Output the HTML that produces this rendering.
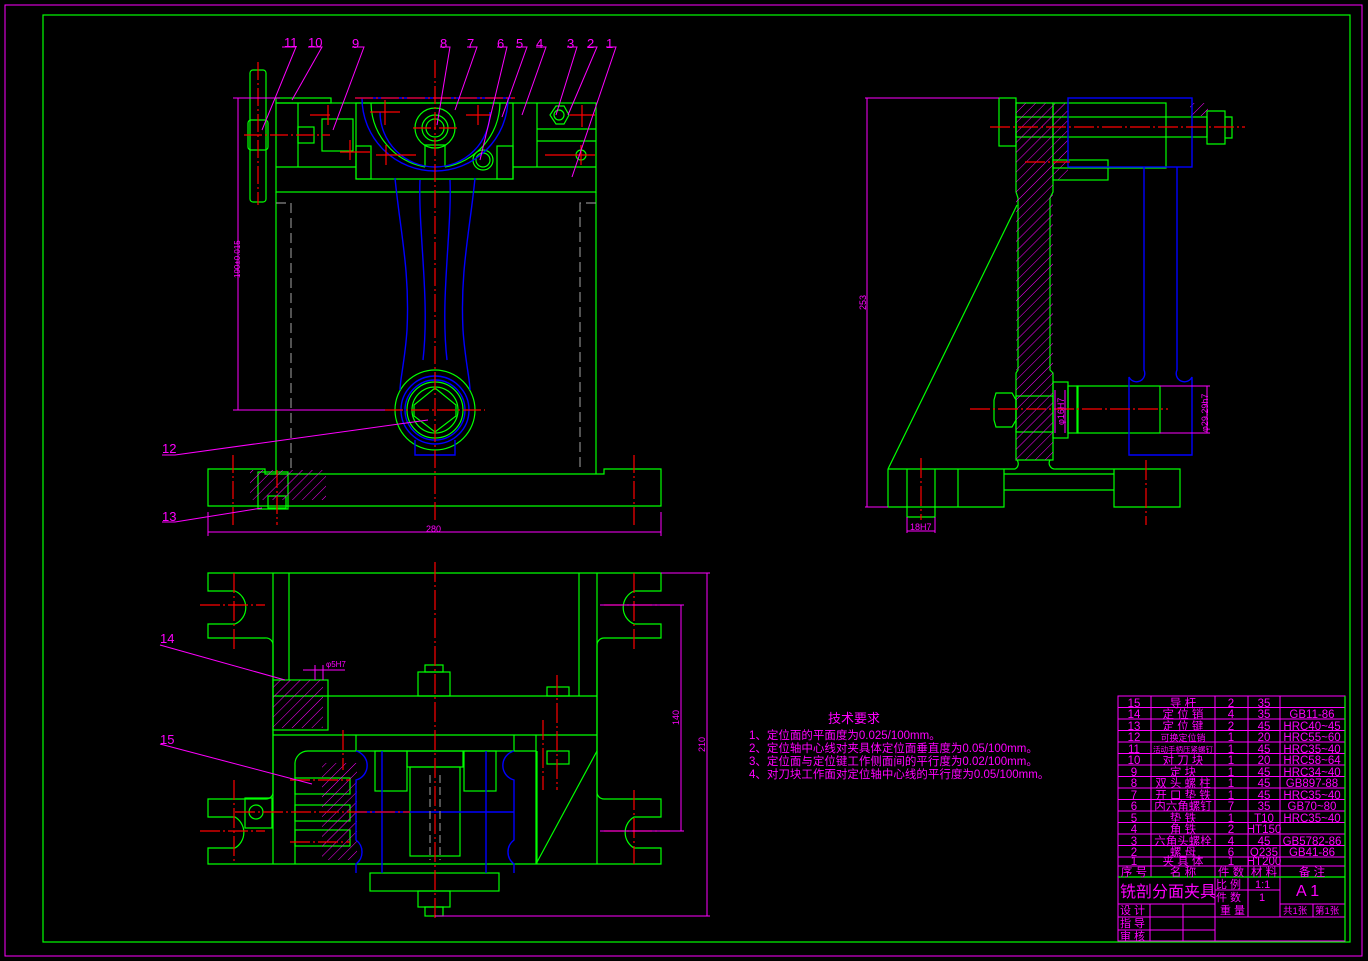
<!DOCTYPE html>
<html><head><meta charset="utf-8"><style>
body{margin:0;background:#000;width:1368px;height:961px;overflow:hidden}
svg{display:block}
text{font-family:"Liberation Sans","Noto Sans CJK SC",sans-serif;fill:#f0f}
</style></head><body>
<svg width="1368" height="961" viewBox="0 0 1368 961" xmlns="http://www.w3.org/2000/svg">
<defs>
<pattern id="h" width="7" height="7" patternUnits="userSpaceOnUse" patternTransform="rotate(45)"><line x1="0" y1="0" x2="0" y2="7" stroke="#f0f" stroke-width="1"/></pattern>
</defs>
<rect x="5" y="5" width="1357" height="951" fill="none" stroke="#f0f" stroke-width="1"/>
<rect x="43" y="15" width="1307" height="927" fill="none" stroke="#0f0" stroke-width="1.2"/>

<!-- ===== FRONT VIEW ===== -->
<g fill="none" stroke="#0f0" stroke-width="1.2">
<rect x="276" y="103" width="320" height="89"/>
<line x1="276" y1="167" x2="356" y2="167"/><line x1="513" y1="167" x2="596" y2="167"/>
<rect x="356" y="103" width="157" height="76"/>
<rect x="356" y="146" width="15" height="33"/><rect x="497" y="146" width="16" height="33"/>
<line x1="298" y1="103" x2="298" y2="167"/><line x1="537" y1="103" x2="537" y2="167"/>
<line x1="537" y1="129" x2="596" y2="129"/><line x1="537" y1="141" x2="596" y2="141"/>
<rect x="276" y="98" width="55" height="5"/>
<rect x="322" y="119" width="31" height="32"/><rect x="298" y="127" width="16" height="16"/>
<line x1="276" y1="192" x2="276" y2="474"/><line x1="596" y1="192" x2="596" y2="474"/>
<path d="M208 469H265V474H604V469H661V506H208Z"/>
<path d="M371 103A66 66 0 0 0 425 167M500 103A66 66 0 0 1 445 167"/>
<path d="M425 167V145H445V167"/>
<circle cx="435" cy="128" r="20"/><circle cx="435" cy="128" r="13"/><circle cx="435" cy="128" r="9"/>
<circle cx="483" cy="160" r="10"/><circle cx="483" cy="160" r="7"/>
<polygon points="550,115 556,106 564,106 569,115 564,124 556,124"/><circle cx="559" cy="115" r="5"/>
<circle cx="581" cy="155" r="5"/>
<circle cx="435" cy="410" r="40"/><circle cx="435" cy="410" r="28"/><circle cx="435" cy="410" r="23"/>
<polygon points="435,388 456,405 456,416 435,432 414,416 414,405"/>
<rect x="250" y="70" width="16" height="132" rx="3"/>
<rect x="248" y="120" width="20" height="30" rx="3"/>
<rect x="258" y="472" width="30" height="37"/><rect x="268" y="496" width="18" height="12"/>
</g>
<rect x="250" y="470" width="76" height="30" fill="url(#h)"/>
<g fill="none" stroke="#888" stroke-dasharray="10,5" stroke-width="1.2">
<path d="M276 203H291V470M596 203H580V470"/>
</g>
<g fill="none" stroke="#00f" stroke-width="1.4">
<path d="M355 98H513"/>
<path d="M362 98A73 73 0 0 0 508 98"/>
<path d="M380 112A55 55 0 0 0 490 112"/>
<path d="M395 178C400 230 410 270 407 330C405 360 400 380 400 390M475 178C470 230 460 270 463 330C465 360 470 380 470 390"/>
<path d="M420 180C418 230 430 300 423 360M450 180C452 230 440 300 447 360"/>
<circle cx="435" cy="410" r="34"/><circle cx="435" cy="410" r="30"/>
<path d="M415 440V455H455V440"/>
</g>
<g stroke="#f00" stroke-width="1.2" stroke-dasharray="18,3,2,3" fill="none">
<line x1="435" y1="60" x2="435" y2="520"/><line x1="385" y1="410" x2="485" y2="410"/>
<line x1="413" y1="128" x2="458" y2="128"/><line x1="258" y1="62" x2="258" y2="205"/>
<line x1="244" y1="135" x2="330" y2="135"/><line x1="233" y1="455" x2="233" y2="525"/><line x1="634" y1="455" x2="634" y2="525"/>
<line x1="277" y1="470" x2="277" y2="525"/><line x1="355" y1="98" x2="515" y2="98"/>
</g>
<g stroke="#f00" stroke-width="1.2">
<path d="M376 155h40M386 145v20M310 115h20M328 105v20M340 152h30M350 140v20M545 155h50M581 145v20M570 115h25M582 105v22M466 115h25M478 105v20M370 112h30M385 100v25"/>
</g>
<g stroke="#f0f" stroke-width="1" fill="none">
<path d="M238 98V410M233 98H280M233 410H385"/>
<path d="M208 512V536M661 512V536M208 532H661"/>
<path d="M282 47H296L262 130M308 47H322L292 100M352 47H364L333 130M440 47H450L437 125M467 47H477L455 110M497 47H507L480 160M516 47H527L502 117M536 47H546L522 115M567 47H577L556 115M587 47H597L568 115M606 47H616L572 177"/>
<path d="M162 455H175L428 420M162 522H175L262 508"/>
</g>
<g font-size="13">
<text x="284" y="47">11</text><text x="308" y="47">10</text><text x="352" y="48">9</text>
<text x="440" y="48">8</text><text x="467" y="48">7</text><text x="497" y="48">6</text><text x="516" y="48">5</text>
<text x="536" y="48">4</text><text x="567" y="48">3</text><text x="587" y="48">2</text><text x="606" y="48">1</text>
<text x="162" y="453">12</text><text x="162" y="521">13</text>
<text x="426" y="532" font-size="9">280</text>
<text x="0" y="0" font-size="8" transform="translate(240,278) rotate(-90)">190±0.015</text>
</g>

<!-- ===== BOTTOM VIEW ===== -->
<g fill="none" stroke="#0f0" stroke-width="1.2">
<path d="M208 573H661V591H634A18 18 0 0 0 634 624H661V638H604A7 7 0 0 0 597 645V792A7 7 0 0 0 604 799H661V817H634A18 18 0 0 0 634 848H661V864H208V848H235A18 18 0 0 0 235 817H208V799H265A7 7 0 0 0 273 792V645A7 7 0 0 0 265 638H208V624H235A18 18 0 0 0 235 591H208Z"/>
<line x1="273" y1="573" x2="273" y2="864"/><line x1="289" y1="573" x2="289" y2="680"/>
<line x1="579" y1="573" x2="579" y2="696"/><line x1="597" y1="573" x2="597" y2="864"/>
<line x1="273" y1="696" x2="597" y2="696"/><line x1="273" y1="735" x2="597" y2="735"/>
<path d="M295 864V765A13 13 0 0 1 308 751H536V864"/>
<path d="M356 751V735M514 751V735M536 751V735"/>
<path d="M536 864L597 751M537 864V751"/>
<rect x="375" y="751" width="32" height="40"/><rect x="464" y="751" width="32" height="40"/>
<rect x="407" y="751" width="56" height="16"/><rect x="410" y="767" width="50" height="89"/>
<rect x="370" y="873" width="129" height="18"/>
<rect x="418" y="891" width="32" height="16"/><rect x="425" y="907" width="18" height="9"/>
<rect x="418" y="672" width="32" height="24"/><rect x="425" y="665" width="18" height="7"/>
<rect x="547" y="687" width="22" height="9"/><rect x="547" y="751" width="22" height="13"/>
<rect x="245" y="798" width="27" height="30"/><circle cx="256" cy="812" r="7"/>
<rect x="295" y="778" width="55" height="16"/><rect x="295" y="805" width="55" height="16"/><rect x="295" y="830" width="55" height="16"/>
<rect x="273" y="680" width="55" height="50"/>
</g>
<rect x="322" y="763" width="35" height="97" fill="url(#h)"/>
<rect x="273" y="680" width="50" height="48" fill="url(#h)"/>
<g fill="none" stroke="#00f" stroke-width="1.4">
<path d="M356 751A15 15 0 0 1 356 780V840A15 15 0 0 1 356 864V873M514 751A15 15 0 0 0 514 780V840A15 15 0 0 0 514 864V873"/>
<line x1="382" y1="751" x2="382" y2="873"/><line x1="486" y1="751" x2="486" y2="873"/>
<line x1="356" y1="812" x2="514" y2="812"/>
</g>
<g stroke="#888" stroke-dasharray="8,4" stroke-width="1.2"><line x1="430" y1="775" x2="430" y2="860"/><line x1="440" y1="775" x2="440" y2="860"/></g>
<g stroke="#f00" stroke-width="1.2" stroke-dasharray="20,3,2,3" fill="none">
<line x1="435" y1="562" x2="435" y2="918"/>
<path d="M200 605H265M234 573V650M604 605H670M634 573V650M200 831H265M234 780V864M604 831H670M634 790V864M235 812H410M557 675V790M543 720V790M343 730V770M290 780H350M290 842H350"/>
</g>
<g stroke="#f0f" stroke-width="1" fill="none">
<path d="M661 573H710M707 573V916M435 916H710M600 605H684M681 605V831M600 831H684"/>
<path d="M160 645L285 680M160 744L312 784"/>
<path d="M303 670H345M315 665V680M323 665V680"/>
</g>
<g font-size="13">
<text x="160" y="643">14</text><text x="160" y="744">15</text>
<text x="0" y="0" font-size="9" transform="translate(679,725) rotate(-90)">140</text>
<text x="0" y="0" font-size="9" transform="translate(705,752) rotate(-90)">210</text>
<text x="326" y="667" font-size="8">φ5H7</text>
</g>

<!-- ===== SIDE VIEW ===== -->
<rect x="1053" y="103" width="15" height="77" fill="url(#h)"/>
<g fill="none" stroke="#0f0" stroke-width="1.2">
<rect x="999" y="98" width="17" height="48"/>
<path d="M1016 103H1053V192L1050 198V370L1053 373V460H1016V373L1018 370V198L1016 192Z"/>
<rect x="1053" y="103" width="113" height="65"/>
<rect x="1016" y="117" width="191" height="20"/>
<path d="M1207 111H1225V144H1207ZM1225 117H1232V138H1225"/>
<rect x="1053" y="160" width="55" height="20"/>
<rect x="1053" y="382" width="15" height="56"/><rect x="1068" y="386" width="10" height="47"/>
<rect x="1077" y="386" width="83" height="47"/>
<rect x="1016" y="396" width="37" height="36"/>
<polygon points="996,393 1012,393 1016,400 1016,420 1012,427 996,427 994,420 994,400"/>
<path d="M888 469H1015A6 6 0 0 0 1017 460M1050 460A6 6 0 0 0 1056 469H1114V507H1180V469H1114M888 469V507H1004V469M907 469V517H935V469M1004 474H1114M1004 490H1114M958 469V507"/>
<line x1="888" y1="469" x2="1017" y2="205"/>
</g>
<rect x="1016" y="103" width="37" height="357" fill="url(#h)"/>
<rect x="1190" y="103" width="18" height="13" fill="url(#h)"/>
<g fill="none" stroke="#00f" stroke-width="1.4">
<rect x="1068" y="98" width="124" height="69"/>
<path d="M1144 167V370A5 5 0 0 1 1129 377V455H1192V377A5 5 0 0 1 1177 370V167"/>
</g>
<g stroke="#f00" stroke-width="1.2" stroke-dasharray="20,3,2,3"><line x1="990" y1="127" x2="1245" y2="127"/><line x1="970" y1="409" x2="1168" y2="409"/><line x1="921" y1="458" x2="921" y2="520"/><line x1="1146" y1="460" x2="1146" y2="525"/><line x1="1025" y1="162" x2="1070" y2="162"/></g>
<g stroke="#f0f" stroke-width="1" fill="none">
<path d="M865 98H999M867 98V507M865 507H888M907 517V533M935 517V533M907 531H935M1160 386H1210M1160 433H1210M1207 386V433M1055 390V433M1065 390V433"/>
</g>
<g font-size="9">
<text x="0" y="0" transform="translate(866,310) rotate(-90)">253</text>
<text x="910" y="530">18H7</text>
<text x="0" y="0" transform="translate(1064,425) rotate(-90)">φ16H7</text>
<text x="0" y="0" transform="translate(1208,432) rotate(-90)">φ29.29h7</text>
</g>

<!-- ===== TECH REQ ===== -->
<g>
<text x="828" y="723" font-size="13">技术要求</text>
<text x="749" y="739" font-size="11.5">1、定位面的平面度为0.025/100mm。</text>
<text x="749" y="752" font-size="11.5">2、定位轴中心线对夹具体定位面垂直度为0.05/100mm。</text>
<text x="749" y="765" font-size="11.5">3、定位面与定位键工作侧面间的平行度为0.02/100mm。</text>
<text x="749" y="778" font-size="11.5">4、对刀块工作面对定位轴中心线的平行度为0.05/100mm。</text>
</g>

<!-- ===== TITLE BLOCK ===== -->
<g stroke="#f0f" stroke-width="1" fill="none">
<rect x="1118" y="696" width="227" height="181"/>
<path d="M1118 707.5H1345M1118 719H1345M1118 730.5H1345M1118 742H1345M1118 753.5H1345M1118 765H1345M1118 776.5H1345M1118 788H1345M1118 799.5H1345M1118 811H1345M1118 822.5H1345M1118 834H1345M1118 845.5H1345M1118 857H1345M1118 866H1345"/>
<path d="M1151 696V877M1215 696V877M1248 696V877M1280 696V877"/>
<path d="M1118 877V941H1345V877M1118 904H1215M1118 917H1345M1118 930H1215M1150 904V941M1183 904V941M1215 877V941M1248 877V917M1215 890H1280M1280 877V917M1313 904V917M1280 904H1345"/>
</g>
<line x1="1118" y1="877" x2="1345" y2="877" stroke="#0f0" stroke-width="1.2"/>
<line x1="1345" y1="696" x2="1345" y2="941" stroke="#0f0" stroke-width="1.2"/>
<g font-size="11.5" text-anchor="middle">
<text x="1134" y="707">15</text><text x="1183" y="707">导    杆</text><text x="1231" y="707">2</text><text x="1264" y="707">35</text>
<text x="1134" y="718">14</text><text x="1183" y="718">定 位 销</text><text x="1231" y="718">4</text><text x="1264" y="718">35</text><text x="1312" y="718">GB11-86</text>
<text x="1134" y="730">13</text><text x="1183" y="730">定 位 键</text><text x="1231" y="730">2</text><text x="1264" y="730">45</text><text x="1312" y="730">HRC40~45</text>
<text x="1134" y="741">12</text><text x="1183" y="741" font-size="9">可换定位销</text><text x="1231" y="741">1</text><text x="1264" y="741">20</text><text x="1312" y="741">HRC55~60</text>
<text x="1134" y="753">11</text><text x="1183" y="752" font-size="7.5">活动手柄压紧螺钉</text><text x="1231" y="753">1</text><text x="1264" y="753">45</text><text x="1312" y="753">HRC35~40</text>
<text x="1134" y="764">10</text><text x="1183" y="764">对 刀 块</text><text x="1231" y="764">1</text><text x="1264" y="764">20</text><text x="1312" y="764">HRC58~64</text>
<text x="1134" y="776">9</text><text x="1183" y="776">定    块</text><text x="1231" y="776">1</text><text x="1264" y="776">45</text><text x="1312" y="776">HRC34~40</text>
<text x="1134" y="787">8</text><text x="1183" y="787">双 头 螺 柱</text><text x="1231" y="787">1</text><text x="1264" y="787">45</text><text x="1312" y="787">GB897-88</text>
<text x="1134" y="799">7</text><text x="1183" y="799">开 口 垫 铁</text><text x="1231" y="799">1</text><text x="1264" y="799">45</text><text x="1312" y="799">HRC35~40</text>
<text x="1134" y="810">6</text><text x="1183" y="810">内六角螺钉</text><text x="1231" y="810">7</text><text x="1264" y="810">35</text><text x="1312" y="810">GB70~80</text>
<text x="1134" y="822">5</text><text x="1183" y="822">垫    铁</text><text x="1231" y="822">1</text><text x="1264" y="822">T10</text><text x="1312" y="822">HRC35~40</text>
<text x="1134" y="833">4</text><text x="1183" y="833">角    铁</text><text x="1231" y="833">2</text><text x="1264" y="833">HT150</text>
<text x="1134" y="845">3</text><text x="1183" y="845">六角头螺栓</text><text x="1231" y="845">4</text><text x="1264" y="845">45</text><text x="1312" y="845">GB5782-86</text>
<text x="1134" y="856">2</text><text x="1183" y="856">螺    母</text><text x="1231" y="856">6</text><text x="1264" y="856">Q235</text><text x="1312" y="856">GB41-86</text>
<text x="1134" y="865">1</text><text x="1183" y="865">夹 具 体</text><text x="1231" y="865">1</text><text x="1264" y="865">HT200</text>
<text x="1134" y="876">序 号</text><text x="1183" y="876">名    称</text><text x="1231" y="876">件 数</text><text x="1264" y="876">材 料</text><text x="1312" y="876">备    注</text>
</g>
<g font-size="11">
<text x="1120" y="897" font-size="16">铣剖分面夹具</text>
<text x="1216" y="888">比 例</text><text x="1255" y="888">1:1</text>
<text x="1216" y="901">件 数</text><text x="1259" y="901">1</text>
<text x="1296" y="896" font-size="16">A  1</text>
<text x="1220" y="914">重 量</text>
<text x="1283" y="914" font-size="9.5">共1张</text><text x="1315" y="914" font-size="9.5">第1张</text>
<text x="1120" y="914">设 计</text><text x="1120" y="927">指 导</text><text x="1120" y="940">审 核</text>
</g>
</svg>
</body></html>
